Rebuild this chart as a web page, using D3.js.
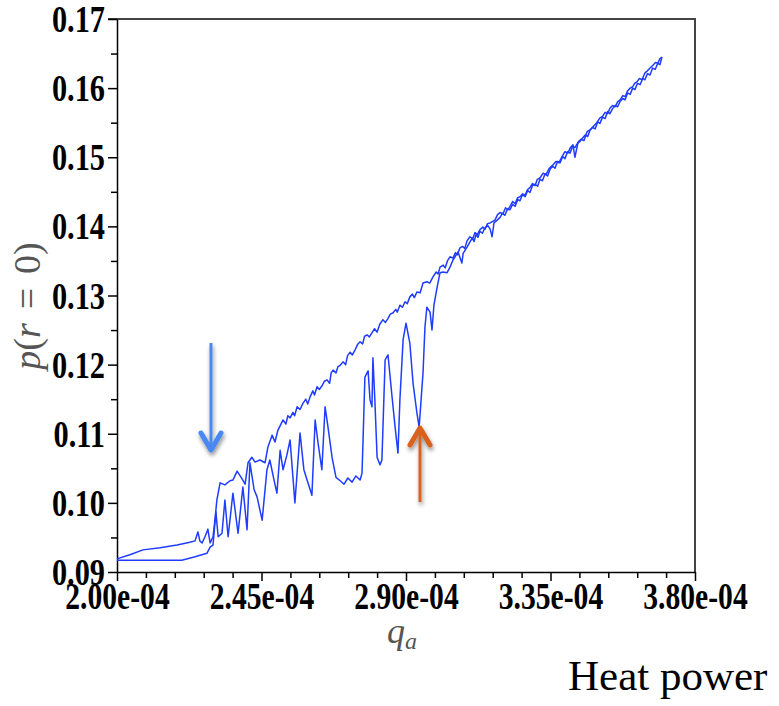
<!DOCTYPE html>
<html>
<head>
<meta charset="utf-8">
<script src="https://cdn.jsdelivr.net/npm/d3@7"></script>
<style>
body { margin: 0; background: #fff; }
</style>
</head>
<body>
<div id="viz"></div>
<script>
// heat power q_a (units of 1e-4) and p(r=0)
// forward sweep: lower branch with the oscillations
var fwdQ = [2.000, 2.103, 2.202, 2.243, 2.280, 2.290, 2.299, 2.308, 2.315, 2.327,
    2.336, 2.346, 2.361, 2.377, 2.392, 2.405, 2.414, 2.427, 2.436, 2.452,
    2.467, 2.476, 2.489, 2.498, 2.508, 2.517, 2.529, 2.539, 2.554, 2.570,
    2.582, 2.592, 2.607, 2.617, 2.626, 2.638, 2.648, 2.657, 2.670, 2.682,
    2.695, 2.707, 2.719, 2.732, 2.744, 2.757, 2.763, 2.766, 2.772, 2.782,
    2.788, 2.794, 2.797, 2.803, 2.810, 2.819, 2.825, 2.835, 2.844, 2.850,
    2.856, 2.866, 2.875, 2.881, 2.891, 2.900, 2.912, 2.922, 2.934, 2.941,
    2.947, 2.953, 2.959, 2.965, 2.975, 2.981, 2.987, 2.997, 3.006, 3.015,
    3.028, 3.037, 3.046, 3.062, 3.074, 3.078, 3.090, 3.106, 3.112, 3.118,
    3.124, 3.130, 3.138, 3.146, 3.155, 3.162, 3.168, 3.174, 3.184, 3.193,
    3.200, 3.208, 3.216, 3.224, 3.232, 3.240, 3.248, 3.255, 3.263, 3.271,
    3.279, 3.286, 3.294, 3.302, 3.310, 3.317, 3.325, 3.333, 3.341, 3.349,
    3.357, 3.364, 3.372, 3.380, 3.388, 3.395, 3.403, 3.411, 3.419, 3.426,
    3.434, 3.442, 3.450, 3.458, 3.466, 3.473, 3.481, 3.489, 3.497, 3.504,
    3.512, 3.520, 3.528, 3.535, 3.543, 3.551, 3.559, 3.567, 3.575, 3.582,
    3.590, 3.598, 3.606, 3.613, 3.621, 3.629, 3.637, 3.644, 3.652, 3.660,
    3.668, 3.676, 3.684, 3.691, 3.697];
var fwdP = [0.0917, 0.0917, 0.0917, 0.0922, 0.0927, 0.0936, 0.0939, 0.0987, 0.0951, 0.0956,
    0.1004, 0.0951, 0.1014, 0.0956, 0.1023, 0.0961, 0.1058, 0.1019, 0.1009, 0.0975,
    0.1048, 0.1062, 0.1033, 0.1014, 0.1076, 0.1048, 0.1069, 0.1091, 0.1000, 0.1101,
    0.1048, 0.1033, 0.1011, 0.1120, 0.1087, 0.1048, 0.1139, 0.1110, 0.1065, 0.1037,
    0.1032, 0.1027, 0.1036, 0.1030, 0.1039, 0.1033, 0.1043, 0.1087, 0.1182, 0.1191,
    0.1149, 0.1139, 0.1210, 0.1149, 0.1066, 0.1055, 0.1062, 0.1207, 0.1214, 0.1185,
    0.1156, 0.1110, 0.1072, 0.1149, 0.1236, 0.1260, 0.1231, 0.1173, 0.1130, 0.1110,
    0.1149, 0.1188, 0.1254, 0.1283, 0.1276, 0.1250, 0.1286, 0.1312, 0.1333, 0.1334,
    0.1333, 0.1341, 0.1351, 0.1363, 0.1347, 0.1361, 0.1370, 0.1383, 0.1378, 0.1388,
    0.1384, 0.1393, 0.1390, 0.1398, 0.1401, 0.1396, 0.1385, 0.1405, 0.1409, 0.1413,
    0.1419, 0.1416, 0.1425, 0.1424, 0.1432, 0.1429, 0.1439, 0.1437, 0.1446, 0.1443,
    0.1452, 0.1449, 0.1459, 0.1461, 0.1458, 0.1468, 0.1466, 0.1476, 0.1473, 0.1483,
    0.1487, 0.1484, 0.1494, 0.1492, 0.1501, 0.1498, 0.1508, 0.1506, 0.1516, 0.1514,
    0.1520, 0.1523, 0.1528, 0.1532, 0.1530, 0.1539, 0.1543, 0.1541, 0.1551, 0.1549,
    0.1558, 0.1556, 0.1566, 0.1563, 0.1570, 0.1575, 0.1573, 0.1581, 0.1585, 0.1583,
    0.1593, 0.1591, 0.1600, 0.1598, 0.1607, 0.1605, 0.1614, 0.1612, 0.1621, 0.1619,
    0.1629, 0.1627, 0.1636, 0.1634, 0.1645];

// backward sweep: upper branch, drops down near 2.31e-04
var bwdQ = [2.000, 2.040, 2.081, 2.134, 2.187, 2.227, 2.243, 2.252, 2.258, 2.265,
    2.274, 2.283, 2.290, 2.299, 2.305, 2.311, 2.321, 2.336, 2.352, 2.361,
    2.374, 2.389, 2.399, 2.408, 2.420, 2.430, 2.445, 2.461, 2.470, 2.483,
    2.492, 2.501, 2.517, 2.526, 2.532, 2.539, 2.548, 2.553, 2.561, 2.570,
    2.579, 2.588, 2.594, 2.601, 2.610, 2.615, 2.623, 2.630, 2.638, 2.646,
    2.654, 2.662, 2.667, 2.673, 2.682, 2.688, 2.695, 2.704, 2.712, 2.718,
    2.726, 2.733, 2.741, 2.749, 2.757, 2.765, 2.771, 2.779, 2.786, 2.794,
    2.802, 2.810, 2.818, 2.828, 2.836, 2.844, 2.851, 2.860, 2.868, 2.873,
    2.881, 2.889, 2.897, 2.904, 2.912, 2.920, 2.926, 2.934, 2.944, 2.953,
    2.965, 2.974, 2.984, 2.994, 3.000, 3.006, 3.016, 3.022, 3.029, 3.037,
    3.046, 3.054, 3.060, 3.068, 3.076, 3.083, 3.090, 3.099, 3.108, 3.115,
    3.122, 3.130, 3.139, 3.146, 3.154, 3.162, 3.177, 3.185, 3.193, 3.202,
    3.210, 3.217, 3.224, 3.232, 3.240, 3.247, 3.255, 3.263, 3.271, 3.278,
    3.286, 3.294, 3.302, 3.309, 3.317, 3.327, 3.336, 3.346, 3.358, 3.367,
    3.376, 3.386, 3.395, 3.404, 3.412, 3.420, 3.426, 3.436, 3.445, 3.454,
    3.464, 3.474, 3.484, 3.494, 3.504, 3.512, 3.520, 3.528, 3.535, 3.543,
    3.551, 3.559, 3.567, 3.575, 3.583, 3.590, 3.598, 3.606, 3.612, 3.619,
    3.627, 3.635, 3.644, 3.652, 3.660, 3.669, 3.677, 3.684, 3.690, 3.697];
var bwdP = [0.0919, 0.0925, 0.0932, 0.0935, 0.0939, 0.0943, 0.0945, 0.0958, 0.0945, 0.0942,
    0.0951, 0.0962, 0.0942, 0.0951, 0.0975, 0.1004, 0.1029, 0.1026, 0.1032, 0.1033,
    0.1046, 0.1035, 0.1027, 0.1058, 0.1066, 0.1059, 0.1062, 0.1058, 0.1081, 0.1098,
    0.1088, 0.1105, 0.1120, 0.1114, 0.1126, 0.1123, 0.1131, 0.1126, 0.1139, 0.1135,
    0.1144, 0.1150, 0.1143, 0.1153, 0.1162, 0.1156, 0.1168, 0.1164, 0.1169, 0.1176,
    0.1178, 0.1173, 0.1188, 0.1192, 0.1188, 0.1197, 0.1199, 0.1204, 0.1200, 0.1213,
    0.1218, 0.1214, 0.1221, 0.1229, 0.1233, 0.1230, 0.1241, 0.1243, 0.1240, 0.1246,
    0.1252, 0.1247, 0.1258, 0.1265, 0.1261, 0.1267, 0.1273, 0.1275, 0.1280, 0.1276,
    0.1286, 0.1283, 0.1291, 0.1288, 0.1298, 0.1302, 0.1297, 0.1305, 0.1304, 0.1318,
    0.1320, 0.1318, 0.1327, 0.1334, 0.1331, 0.1341, 0.1344, 0.1340, 0.1350, 0.1356,
    0.1354, 0.1362, 0.1359, 0.1369, 0.1371, 0.1368, 0.1379, 0.1385, 0.1382, 0.1391,
    0.1388, 0.1395, 0.1399, 0.1396, 0.1404, 0.1405, 0.1409, 0.1417, 0.1420, 0.1418,
    0.1427, 0.1424, 0.1429, 0.1436, 0.1433, 0.1441, 0.1443, 0.1447, 0.1445, 0.1453,
    0.1456, 0.1462, 0.1459, 0.1468, 0.1470, 0.1477, 0.1475, 0.1484, 0.1489, 0.1494,
    0.1492, 0.1501, 0.1508, 0.1506, 0.1514, 0.1518, 0.1500, 0.1522, 0.1526, 0.1524,
    0.1537, 0.1540, 0.1545, 0.1550, 0.1557, 0.1559, 0.1565, 0.1563, 0.1571, 0.1575,
    0.1573, 0.1580, 0.1583, 0.1589, 0.1588, 0.1596, 0.1600, 0.1602, 0.1607, 0.1609,
    0.1614, 0.1612, 0.1622, 0.1625, 0.1629, 0.1633, 0.1637, 0.1636, 0.1642, 0.1645];

var yTicks = [0.09, 0.10, 0.11, 0.12, 0.13, 0.14, 0.15, 0.16, 0.17];
var xTicks = [2.00, 2.45, 2.90, 3.35, 3.80];

var width = 779, height = 706;
var plotLeft = 117, plotRight = 695, plotTop = 19, plotBottom = 572;

var svg = d3.select("#viz")
    .append("svg")
    .attr("width", width)
    .attr("height", height);

var x = d3.scaleLinear().domain([2.0, 3.8]).range([plotLeft, plotRight]);
var y = d3.scaleLinear().domain([0.09, 0.17]).range([plotBottom, plotTop]);

// frame top / right (grey)
svg.append("path")
    .attr("d", "M" + (plotLeft - 9) + "," + plotTop + "H" + plotRight + "V" + plotBottom)
    .attr("fill", "none")
    .attr("stroke", "#444")
    .attr("stroke-width", 2);

// minor ticks
var yMinor = d3.range(8).map(function (i) { return 0.095 + i * 0.01; });
var xMinor = d3.range(21).map(function (i) { return 2.0 + i * 0.09; })
    .filter(function (d, i) { return i % 5 != 0; });

svg.append("g")
    .attr("transform", "translate(" + plotLeft + ",0)")
    .call(d3.axisLeft(y).tickValues(yMinor).tickSize(6).tickFormat(""))
    .call(function (g) { g.select(".domain").remove(); })
    .selectAll("line").attr("stroke-width", 1.5);

svg.append("g")
    .attr("transform", "translate(0," + plotBottom + ")")
    .call(d3.axisBottom(x).tickValues(xMinor).tickSize(6).tickFormat(""))
    .call(function (g) { g.select(".domain").remove(); })
    .selectAll("line").attr("stroke-width", 1.5);

// major axes
var sy = 0.82, sx = 0.8;
var yAxis = svg.append("g")
    .attr("transform", "translate(" + plotLeft + ",0)")
    .call(d3.axisLeft(y).tickValues(yTicks).tickSize(9).tickSizeOuter(0)
        .tickFormat(d3.format(".2f")));
yAxis.selectAll("line").attr("stroke-width", 1.5);
yAxis.select(".domain").attr("stroke-width", 1.5);
yAxis.selectAll("text")
    .attr("font-family", "'Liberation Serif', 'Times New Roman', serif")
    .attr("font-weight", "bold")
    .attr("font-size", 37)
    .attr("fill", "#000")
    .attr("x", -12 / sy)
    .attr("dy", "0.34em")
    .attr("transform", "scale(" + sy + ",1)");

var xAxis = svg.append("g")
    .attr("transform", "translate(0," + plotBottom + ")")
    .call(d3.axisBottom(x).tickValues(xTicks).tickSize(9).tickSizeOuter(0)
        .tickFormat(function (d) { return d.toFixed(2) + "e-04"; }));
xAxis.selectAll("line").attr("stroke-width", 1.5);
xAxis.select(".domain").attr("stroke-width", 1.5);
xAxis.selectAll("text")
    .attr("font-family", "'Liberation Serif', 'Times New Roman', serif")
    .attr("font-weight", "bold")
    .attr("font-size", 37)
    .attr("fill", "#000")
    .attr("y", 11)
    .attr("transform", "scale(" + sx + ",1)");

// the two sweeps
var line = d3.line()
    .x(function (d) { return x(d[0]); })
    .y(function (d) { return y(d[1]); });

var fwd = fwdQ.map(function (q, i) { return [q, fwdP[i]]; });
var bwd = bwdQ.map(function (q, i) { return [q, bwdP[i]]; });

svg.selectAll("path.sweep")
    .data([fwd, bwd])
    .enter()
    .append("path")
    .attr("class", "sweep")
    .attr("d", line)
    .attr("fill", "none")
    .attr("stroke", "#1f3cff")
    .attr("stroke-width", 1.5)
    .attr("stroke-linejoin", "round");

// axis titles
var yTitle = svg.append("text")
    .attr("transform", "translate(40,306) rotate(-90)")
    .attr("text-anchor", "middle")
    .attr("font-family", "'Liberation Serif', 'Times New Roman', serif")
    .attr("font-size", 38)
    .attr("fill", "#555");
yTitle.append("tspan").attr("font-style", "italic").text("p");
yTitle.append("tspan").text("(");
yTitle.append("tspan").attr("font-style", "italic").text("r");
yTitle.append("tspan").attr("dx", 14).text("=");
yTitle.append("tspan").attr("dx", 14).text("0)");

var xTitle = svg.append("text")
    .attr("x", 402)
    .attr("y", 643)
    .attr("text-anchor", "middle")
    .attr("font-family", "'Liberation Serif', 'Times New Roman', serif")
    .attr("font-size", 36)
    .attr("fill", "#555");
xTitle.append("tspan").attr("font-style", "italic").text("q");
xTitle.append("tspan").attr("font-style", "italic").attr("font-size", 24).attr("dy", 6).text("a");

svg.append("text")
    .attr("x", 568)
    .attr("y", 690)
    .attr("font-family", "'Liberation Serif', 'Times New Roman', serif")
    .attr("font-size", 43)
    .attr("fill", "#000")
    .text("Heat power");

// arrows
var defs = svg.append("defs");
defs.append("filter")
    .attr("id", "shadow")
    .attr("x", "-50%").attr("y", "-50%").attr("width", "200%").attr("height", "200%")
    .append("feDropShadow")
    .attr("dx", 1).attr("dy", 3).attr("stdDeviation", 2)
    .attr("flood-color", "#000").attr("flood-opacity", 0.45);

function arrow(xq, y1, y2, color) {
    var g = svg.append("g").attr("filter", "url(#shadow)");
    var dir = y2 > y1 ? 1 : -1;
    g.append("line")
        .attr("x1", xq).attr("x2", xq)
        .attr("y1", y1).attr("y2", y2 - dir * 2)
        .attr("stroke", color).attr("stroke-width", 3);
    g.append("path")
        .attr("d", "M" + (xq - 10) + "," + (y2 - dir * 17) + "L" + xq + "," + y2 +
            "L" + (xq + 10) + "," + (y2 - dir * 17))
        .attr("fill", "none")
        .attr("stroke", color)
        .attr("stroke-width", 5)
        .attr("stroke-linecap", "round")
        .attr("stroke-linejoin", "round");
}
arrow(211, 343, 450, "#4a88f0");
arrow(420, 502, 428, "#d8621f");
</script>
</body>
</html>
